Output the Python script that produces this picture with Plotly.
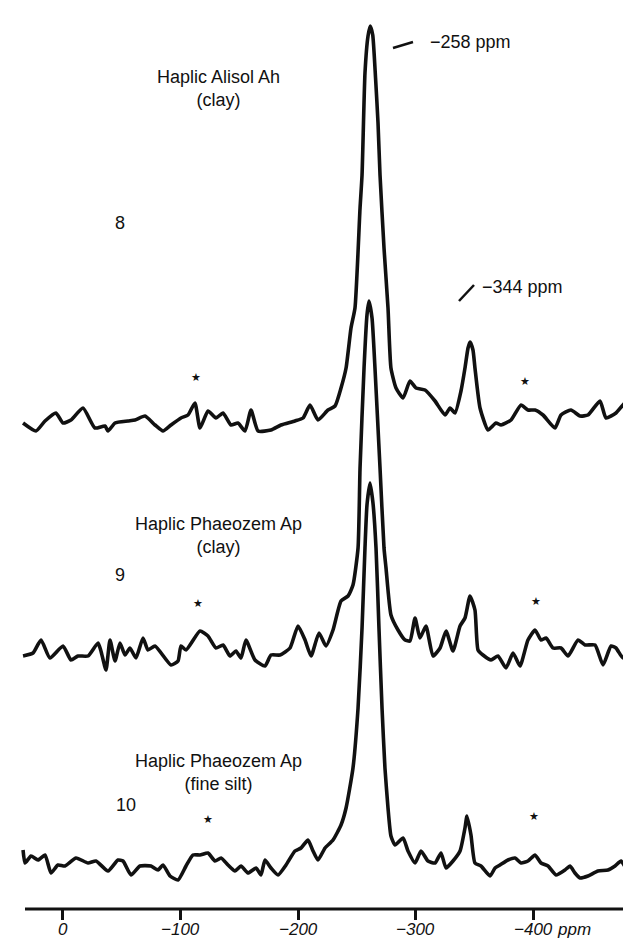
import plotly.graph_objects as go

# ---------------- data (ppm, intensity relative to baseline) ----------------
ppm_8 = [34.0, 23.0, 15.3, 6.0, 0, -6.8, -17.0, -27.2, -35.7, -38.3, -44.3, -55.3, -61.3, -69.8,
         -78.3, -85.1, -91.9, -100.4, -106.4, -112.3, -116.6, -123.4, -130.2, -136.2, -143.0,
         -148.9, -154.9, -160.0, -166.0, -177.0, -185.5, -197.4, -204.3, -210.2, -217.0, -225.5,
         -231.5, -236.6, -240.9, -245.1, -248.5, -252.8, -254.5, -257.0, -259.6, -261.5, -263.6,
         -266.0, -268.1, -269.8, -273.2, -276.6, -279.1, -283.4, -289.4, -295.3, -300.4, -308.1,
         -316.6, -325.1, -329.4, -333.6, -338.7, -342.1, -344.7, -346.4, -348.9, -350.6, -354.9,
         -361.7, -368.5, -372.8, -381.3, -389.8, -395.7, -401.7, -408.5, -418.7, -423.8, -432.3,
         -440.0, -446.8, -457.0, -462.1, -470.6, -480.9, -486.8, -490.2]
int_8 = [0, -8, 2, 10, 0, 3, 15, -5, -3, -8, 0, 2, 3, 7,
         -2, -8, -2, 5, 8, 20, -5, 12, 5, 10, -2,
         0, -8, 13, -8, -7, -2, 2, 5, 18, 3, 13,
         17, 35, 55, 95, 115, 215, 248, 350, 387, 397, 388,
         345, 300, 248, 175, 115, 55, 35, 25, 42, 35, 33,
         22, 8, 15, 10, 32, 55, 75, 81, 73, 55, 15,
         -7, 0, -2, 3, 18, 13, 13, 8, -5, 8, 13,
         7, 8, 22, 5, 10, 23, 5, 5]

ppm_9 = [34.0, 25.5, 18.7, 11.1, 0, -6.8, -12.8, -21.3, -29.8, -32.3, -36.6, -40.0, -44.3, -48.5,
         -52.8, -57.0, -62.1, -68.1, -72.3, -78.3, -91.9, -97.9, -100.4, -104.7, -116.6, -123.4,
         -130.2, -136.2, -142.1, -147.2, -151.5, -155.7, -163.4, -171.9, -177.0, -184.7, -193.2,
         -200.0, -206.0, -211.1, -217.9, -223.8, -229.8, -236.6, -242.6, -246.8, -251.1, -252.8,
         -256.2, -258.7, -260.4, -263.0, -265.5, -269.8, -273.2, -274.9, -279.1, -285.1, -291.1,
         -295.3, -299.6, -303.8, -308.9, -314.9, -320.9, -326.0, -331.9, -337.9, -342.1, -346.4,
         -350.6, -353.2, -357.4, -364.3, -370.2, -377.0, -383.0, -388.9, -395.7, -401.7, -406.8,
         -411.1, -417.0, -423.8, -429.8, -438.3, -444.3, -452.8, -459.6, -466.4, -470.6, -476.6,
         -485.1, -490.2]
int_9 = [-3, 0, 13, -5, 7, -7, -3, -3, 10, 2, -17, 13, -8, 10,
         -2, 5, -5, 15, 3, 7, -12, -8, 7, 3, 22, 17,
         5, 8, -3, 2, -5, 13, -7, -13, -2, -2, 5,
         27, 13, -3, 20, 7, 23, 52, 57, 68, 105, 185,
         285, 338, 352, 335, 285, 185, 105, 85, 38, 23, 13,
         12, 35, 15, 27, -3, 5, 22, 2, 27, 35, 57,
         43, 3, -2, -7, -3, -15, 0, -13, 13, 23, 13,
         15, 5, 5, -3, 13, 8, 8, -12, 7, 5, -5,
         13, 13]

ppm_10 = [34.0, 32.3, 27.2, 21.3, 15.3, 10.2, 4.3, -1.7, -11.1, -21.3, -28.1, -38.3, -46.8, -51.1,
          -57.9, -65.5, -74.9, -80.9, -85.1, -91.1, -97.9, -104.7, -110.6, -116.6, -123.4, -129.4,
          -134.5, -140.4, -146.4, -151.5, -157.4, -164.3, -168.5, -171.9, -177.0, -183.0, -189.8,
          -197.4, -202.6, -208.5, -212.8, -217.0, -223.0, -229.8, -236.6, -240.9, -246.8, -251.1,
          -254.5, -257.0, -258.7, -261.3, -263.8, -266.4, -268.9, -271.5, -274.0, -276.6, -279.1,
          -282.6, -289.4, -293.6, -299.6, -304.7, -310.6, -316.6, -321.7, -326.0, -331.9, -337.9,
          -342.1, -343.8, -347.2, -350.6, -355.7, -363.4, -367.7, -371.9, -378.7, -384.7, -389.8,
          -395.7, -401.7, -406.8, -412.8, -419.6, -427.2, -431.5, -435.7, -440.0, -446.8, -455.3,
          -463.8, -469.8, -474.9, -480.9, -486.8, -490.2]
int_10 = [10, -3, 4, 0, 5, -13, -5, -6, 2, -3, -1, -11, 0, -1,
          -15, -6, -6, -10, -5, -16, -20, -6, 5, 5, 7, -1,
          2, -5, -11, -6, -13, -8, -15, 0, -8, -15, -5,
          9, 12, 20, 9, 0, 12, 20, 35, 52, 92, 152,
          232, 312, 355, 377, 357, 312, 232, 152, 92, 52, 24,
          15, 22, 9, -3, 9, -1, -3, 7, -8, -1, 9,
          32, 44, 25, -3, -6, -16, -8, -5, 0, 2, -3,
          -1, 5, -3, -6, -15, -10, -6, -13, -18, -16, -11,
          -10, -6, -1, -11, -6, -3]

tick_vals = [0, -100, -200, -300, -400]
tick_text = ["0", "\u2212100", "\u2212200", "\u2212300", "\u2212400"]
unit_text = "ppm"

sample_names = ["8", "9", "10"]
sample_titles = ["Haplic Alisol Ah<br>(clay)", "Haplic Phaeozem Ap<br>(clay)",
                 "Haplic Phaeozem Ap<br>(fine silt)"]
peak_labels = ["\u2212258 ppm", "\u2212344 ppm"]

# ---------------- layout helpers ----------------
W, H = 631, 942
PB = 901  # pixel row of x axis
FONT = "Liberation Sans, Arial, Helvetica, sans-serif"
INK = "#111111"


def px(x):
    return x / W


def py(y):
    return (PB - y) / PB


offsets = [486, 256, 49]
series = [(ppm_8, int_8), (ppm_9, int_9), (ppm_10, int_10)]

fig = go.Figure()
for (xs, ys), off in zip(series, offsets):
    fig.add_trace(go.Scatter(
        x=xs, y=[off + v for v in ys], mode="lines",
        line=dict(color=INK, width=3.6, shape="spline", smoothing=0.5),
        hoverinfo="skip"))

ann = []
# sample titles
for txt, yy in zip(sample_titles, [80, 527, 764]):
    ann.append(dict(text=txt, x=px(210), y=py(yy), xref="paper", yref="paper",
                    showarrow=False, xanchor="center", yanchor="middle",
                    font=dict(family=FONT, size=18, color=INK)))
# sample numbers
for txt, (xx, yy) in zip(sample_names, [(112, 215), (112, 567), (118, 797)]):
    ann.append(dict(text=txt, x=px(xx), y=py(yy), xref="paper", yref="paper",
                    showarrow=False, xanchor="center", yanchor="middle",
                    font=dict(family=FONT, size=18, color=INK)))
# peak labels
for txt, (xx, yy) in zip(peak_labels, [(420, 34), (472, 279)]):
    ann.append(dict(text=txt, x=px(xx), y=py(yy), xref="paper", yref="paper",
                    showarrow=False, xanchor="left", yanchor="middle",
                    font=dict(family=FONT, size=18, color=INK)))
# asterisks (spinning side bands)
for xx, yy in [(188, 370), (517, 373), (190, 595), (528, 593), (200, 811), (526, 808)]:
    ann.append(dict(text="\u2605", x=px(xx), y=py(yy), xref="paper", yref="paper",
                    showarrow=False, xanchor="center", yanchor="middle",
                    font=dict(family="DejaVu Sans", size=11, color=INK)))
# tick labels
for v, t in zip(tick_vals, tick_text):
    ann.append(dict(text=t, x=v, xref="x", y=py(921), yref="paper",
                    showarrow=False, xanchor="center", yanchor="middle",
                    borderpad=0,
                    font=dict(family=FONT, size=17, color=INK, style="italic")))
ann.append(dict(text=unit_text, x=tick_vals[-1], xref="x", y=py(921), yref="paper",
                xshift=23, showarrow=False, xanchor="left", yanchor="middle",
                borderpad=0,
                font=dict(family=FONT, size=17, color=INK, style="italic")))

shapes = [
    dict(type="line", xref="paper", yref="paper", x0=px(17), x1=1, y0=0, y1=0,
         line=dict(color=INK, width=3)),
    dict(type="line", xref="paper", yref="paper", x0=px(385), y0=py(40), x1=px(405), y1=py(34),
         line=dict(color=INK, width=2.5)),
    dict(type="line", xref="paper", yref="paper", x0=px(451), y0=py(293), x1=px(466), y1=py(277),
         line=dict(color=INK, width=2.5)),
]

fig.update_layout(
    width=W, height=H,
    margin=dict(l=0, r=0, t=0, b=H - PB, pad=0),
    paper_bgcolor="white", plot_bgcolor="white",
    showlegend=False,
    annotations=ann, shapes=shapes,
    xaxis=dict(range=[46.8, -490.2], tickvals=tick_vals, showticklabels=False,
               ticks="outside", ticklen=10, tickwidth=3, tickcolor=INK,
               showgrid=False, zeroline=False, showline=False),
    yaxis=dict(range=[0, PB], visible=False, fixedrange=True),
)

fig.write_html("out.html")
